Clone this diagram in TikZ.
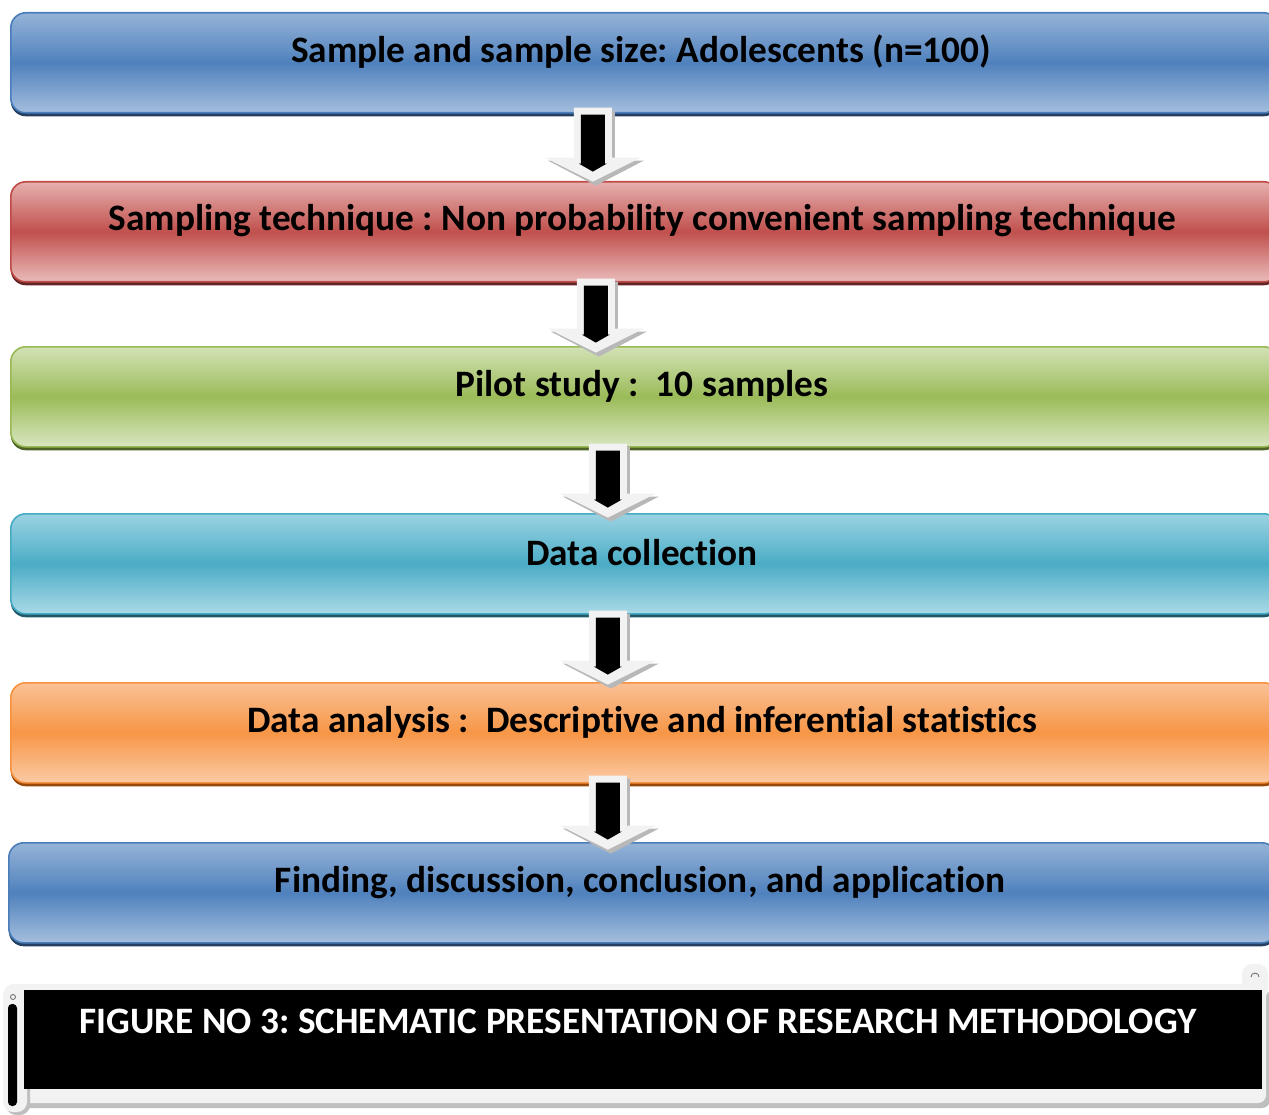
\documentclass[tikz,border=0pt]{standalone}
\usepackage{fontspec}
\setmainfont[Ligatures=NoCommon]{Carlito}
\frenchspacing
\usetikzlibrary{shadows,calc}
\definecolor{bL}{HTML}{95B3D7}\definecolor{bM}{HTML}{4F81BD}\definecolor{bE}{HTML}{243F60}\definecolor{bD}{HTML}{4A7EBB}
\definecolor{rL}{HTML}{E6B0AE}\definecolor{rM}{HTML}{C0504D}\definecolor{rE}{HTML}{632523}\definecolor{rD}{HTML}{BE4B48}
\definecolor{gL}{HTML}{D2E2B5}\definecolor{gM}{HTML}{9BBB59}\definecolor{gE}{HTML}{4F6228}\definecolor{gD}{HTML}{98B954}
\definecolor{tL}{HTML}{9BD3E2}\definecolor{tM}{HTML}{4BACC6}\definecolor{tE}{HTML}{215968}\definecolor{tD}{HTML}{46AAC5}
\definecolor{oL}{HTML}{FAC196}\definecolor{oM}{HTML}{F79646}\definecolor{oE}{HTML}{984807}\definecolor{oD}{HTML}{F69240}
\tikzset{
  stagebox/.style n args={4}{rounded corners=15pt, draw=#4, line width=1.6pt,
    top color=#1, bottom color=#1!85!white, middle color=#2,
    general shadow={fill=#3, shadow yshift=-3.5pt},
    minimum width=1268pt, minimum height=100pt, anchor=north west, inner sep=0pt},
  stagetext/.style={font=\bfseries\fontsize{37.3}{44}\selectfont, text=black, inner sep=0pt},
  blockarr/.pic={
    \fill[black!28] (-16,3)--(22,3)--(22,53)--(51,53)--(3,78)--(-45,53)--(-16,53)--cycle;
    \fill[black!5] (-19,0)--(19,0)--(19,50)--(48,50)--(0,74)--(-48,50)--(-19,50)--cycle;
    \fill[black] (-12,7)--(12,7)--(12,56)--(14,56)--(0,64)--(-14,56)--(-12,56)--cycle;
  }
}
\begin{document}
\begin{tikzpicture}[x=1pt,y=-1pt]
\useasboundingbox (0,0) rectangle (1269,1115);
\clip (0,0) rectangle (1269,1115);
\node[stagebox={bL}{bM}{bE}{bD}] (b1) at (10,12) {};
\node[stagebox={rL}{rM}{rE}{rD}] (b2) at (10,181) {};
\node[stagebox={gL}{gM}{gE}{gD}] (b3) at (10,346) {};
\node[stagebox={tL}{tM}{tE}{tD}] (b4) at (10,513) {};
\node[stagebox={oL}{oM}{oE}{oD}] (b5) at (10,682) {};
\node[stagebox={bL}{bM}{bE}{bD}] (b6) at (8,842) {};
\node[stagetext] (t1) at (641,52) {Sample and sample size: Adolescents (n=100)};
\node[stagetext] (t2) at (642,221) {Sampling technique : Non probability convenient sampling technique};
\node[stagetext] (t3) at (642,386) {Pilot study :\ \ 10 samples};
\node[stagetext] (t4) at (642,553) {Data collection};
\node[stagetext] (t5) at (642,722) {Data analysis :\ \ Descriptive and inferential statistics};
\node[stagetext] (t6) at (640,883) {Finding, discussion, conclusion, and application};
\pic at ($(b1.south)+(-52,-6)$) {blockarr};
\pic at ($(b2.south)+(-49,-4)$) {blockarr};
\pic at ($(b3.south)+(-37,-4)$) {blockarr};
\pic at ($(b4.south)+(-37,-4)$) {blockarr};
\pic at ($(b5.south)+(-37,-8)$) {blockarr};
% banner scroll
\fill[black!25, rounded corners=8pt] (9,989) rectangle (1270,1108);
\fill[black!5, rounded corners=8pt] (5,984) rectangle (1266,1103);
\fill[black!5, rounded corners=10pt] (1242,964) rectangle (1268,1000);
\draw[black!60, line width=0.8pt] (1251,977) arc (180:360:4);
\fill[black!25, rounded corners=10pt] (6,990) rectangle (30,1115);
\fill[black!5, rounded corners=10pt] (3,985) rectangle (27,1112);
\fill[black, rounded corners=4pt] (8,1004) rectangle (17,1106);
\draw[black!60, line width=0.8pt] (13,997) circle (2.5);
\node[fill=black, minimum width=1238pt, minimum height=99pt, anchor=north west, inner sep=0pt] (banner) at (24,990) {};
\node[font=\bfseries\fontsize{37.3}{44}\selectfont, text=white, inner sep=0pt] (cap) at (638,1021) {FIGURE NO 3: SCHEMATIC PRESENTATION OF RESEARCH METHODOLOGY};
\end{tikzpicture}
\end{document}
